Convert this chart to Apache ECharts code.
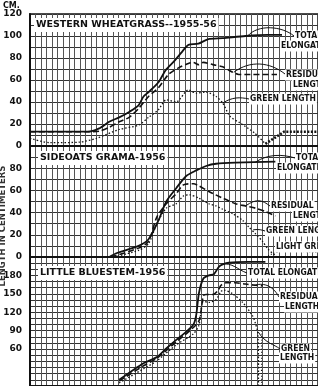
<!DOCTYPE html>
<html>
<head>
<meta charset="utf-8">
<script src="https://cdn.jsdelivr.net/npm/echarts@6/dist/echarts.min.js"></script>
<style>
html,body{margin:0;padding:0;background:#fff;}
#c{width:318px;height:386px;}
</style>
</head>
<body>
<div id="c"></div>
<script>
// ---- data (x = time grid units, y = length in cm) ----
const panelTitles = ['WESTERN WHEATGRASS--1955-56', 'SIDEOATS GRAMA-1956', 'LITTLE BLUESTEM-1956'];
const yTicks1 = [0, 20, 40, 60, 80, 100, 120];
const yTicks2 = [0, 20, 40, 60, 80];
const yTicks3 = [60, 90, 120, 150, 180];

// Western wheatgrass 1955-56
const wwTotal = [[0,13],[10.4,13],[12.5,16],[14.3,22],[16.1,26],[17.9,31],[19.6,37],[20.5,45],[21.4,49],[23.2,58],[24.5,69],[26.2,78],[28.0,89],[28.6,92],[30.4,93],[32.1,97],[34.8,98],[38.9,100],[42.9,101],[45.5,101]];
const wwResidual = [[0,13],[10.4,13],[12.5,13.5],[14.3,17],[16.1,22],[17.9,26],[19.6,34],[21.4,45],[23.2,53],[25.0,65],[26.8,71],[28.6,75],[29.5,76],[30.4,74],[31.3,76],[33.0,74],[34.8,72],[36.6,67],[37.7,65],[44.6,65]];
const wwGreen = [[0,7],[3.6,3],[8.9,3.5],[12.0,7],[16.1,15],[19.6,19],[21.4,26],[23.2,33],[24.6,42],[26.4,40],[28.6,51],[30.0,48],[31.8,49],[33.6,45],[34.8,39],[36.1,27],[37.9,21],[40.5,12],[42.5,2]];
const wwNewGreen = [[42.5,2],[45.9,13],[52,13]];

// Sideoats grama 1956
const sgTotal = [[14.3,0],[15.7,3.6],[19.6,10],[21.4,16],[23.2,33],[24.6,50],[26.4,62],[28.2,73],[30.0,78],[31.8,82],[33.6,84],[37.1,85],[44.3,86]];
const sgResidual = [[14.6,0],[19.6,8],[21.4,14],[22.9,36],[24.6,48],[26.4,57],[27.7,65],[29.5,66],[30.5,64],[32.3,59],[34.8,53],[37.1,48],[38.9,46],[40.7,44],[42.5,41],[44.3,37]];
const sgGreen = [[15.2,0],[19.6,6],[21.4,12],[22.9,30],[24.6,44],[26.4,48],[27.7,55],[28.8,56],[30.5,53],[32.3,48],[33.6,46],[34.8,43],[36.6,39],[38.4,33],[39.5,27],[40.7,21],[42.0,14],[43.0,7],[44.6,0]];
const sgLightGreen = [[42.5,0],[43.8,3],[45.2,5],[47.3,5.5],[49.1,5],[52,4]];

// Little bluestem 1956
const lbTotal = [[16.1,10],[20.5,37],[22.9,47],[24.6,61],[26.4,75],[28.2,88],[29.5,100],[30.0,115],[30.5,151],[31.3,175],[32.3,180],[33.2,182],[34.1,194],[34.8,198],[35.9,201],[39.5,202],[42.5,202]];
const lbResidual = [[16.1,8],[20.5,33],[22.9,45],[26.4,72],[28.6,88],[30.5,106],[31.3,147],[31.8,149],[33.0,149],[33.9,155],[34.5,164],[35.4,168],[37.1,168],[38.9,166],[40.7,164],[42.0,163]];
const lbGreen = [[16.1,5],[20.5,28],[22.9,41],[26.4,67],[29.5,85],[30.5,99],[31.3,138],[32.3,136],[33.6,141],[34.5,154],[35.0,156],[36.6,150],[38.4,136],[40.2,114],[40.7,102],[41.1,88],[41.25,40],[41.25,0]];
const lbLightGreen = [[41.8,90],[41.8,0]];

// ---- chart ----
const INK = '#111';
const LBL_FONT = '"DejaVu Sans", sans-serif';
const NOTE_FONT = '"Liberation Sans Narrow", "DejaVu Sans Condensed", "Liberation Sans", sans-serif';
const chart = echarts.init(document.getElementById('c'), null, {renderer: 'canvas'});

const gridBase = {left: 30, width: 291.2, show: true, borderColor: INK, borderWidth: 1.5, backgroundColor: '#fff'};
const grids = [
  Object.assign({top: 14, height: 132}, gridBase),
  Object.assign({top: 146, height: 111}, gridBase),
  Object.assign({top: 257, height: 157.5}, gridBase)
];

function xAx(i) {
  return {
    gridIndex: i, type: 'value', min: 0, max: 52, interval: 1,
    axisLabel: {show: false}, axisTick: {show: false},
    axisLine: {show: true, onZero: false, lineStyle: {color: INK, width: 2}},
    splitLine: {show: true, lineStyle: {color: '#555', width: 1}}
  };
}
function yAx(i, max, ticks) {
  return {
    gridIndex: i, type: 'value', min: 0, max: max, interval: 10,
    axisTick: {show: false},
    axisLine: {show: true, lineStyle: {color: INK, width: 2}},
    splitLine: {show: true, lineStyle: {color: '#333', width: 1}},
    axisLabel: {
      show: true, margin: 8, color: INK, fontFamily: LBL_FONT, fontWeight: 'bold', fontSize: 9,
      formatter: v => ticks.indexOf(v) >= 0 ? String(v) : ''
    }
  };
}
function ser(i, data, kind) {
  const s = {type: 'line', xAxisIndex: i, yAxisIndex: i, data: data, symbol: 'none', smooth: 0.25, z: 5,
             lineStyle: {color: INK}};
  if (kind === 'total') { s.lineStyle.width = 1.8; s.lineStyle.type = 'solid'; }
  if (kind === 'residual') { s.lineStyle.width = 1.6; s.lineStyle.type = [6, 3]; }
  if (kind === 'green') { s.lineStyle.width = 1.3; s.lineStyle.type = [1.5, 2]; }
  if (kind === 'light') { s.lineStyle.width = 1.1; s.lineStyle.type = [1, 2]; }
  if (kind === 'heavy') { s.lineStyle.width = 2.6; s.lineStyle.type = [2, 1.5]; s.smooth = 0; }
  return s;
}

chart.setOption({
  animation: false,
  backgroundColor: '#fff',
  grid: grids,
  xAxis: [xAx(0), xAx(1), xAx(2)],
  yAxis: [yAx(0, 120, yTicks1), yAx(1, 100, yTicks2), yAx(2, 210, yTicks3)],
  series: [
    ser(0, wwTotal, 'total'), ser(0, wwResidual, 'residual'), ser(0, wwGreen, 'green'), ser(0, wwNewGreen, 'heavy'),
    ser(1, sgTotal, 'total'), ser(1, sgResidual, 'residual'), ser(1, sgGreen, 'green'), ser(1, sgLightGreen, 'light'),
    ser(2, lbTotal, 'total'), ser(2, lbResidual, 'residual'), ser(2, lbGreen, 'green'), ser(2, lbLightGreen, 'light')
  ]
});

// ---- annotations ----
const g = [];
function txt(x, y, s, opt) {
  g.push({type: 'text', x: x, y: y, z: 20, style: Object.assign({
    text: s, fill: INK, font: 'bold 8.5px ' + NOTE_FONT, textVerticalAlign: 'middle',
    backgroundColor: '#fff', padding: [1, 1]
  }, opt || {})});
}
function leader(gi, pt, cp1, cp2, end) {
  const p = chart.convertToPixel({gridIndex: gi}, pt);
  g.push({type: 'bezierCurve', z: 19, shape: {x1: p[0], y1: p[1], cpx1: cp1[0], cpy1: cp1[1], cpx2: cp2[0], cpy2: cp2[1], x2: end[0], y2: end[1]},
          style: {stroke: INK, lineWidth: 1, fill: null}});
}
// titles
txt(34, 25, panelTitles[0], {font: 'bold 9.5px ' + LBL_FONT, padding: [2, 2]});
txt(38, 158, panelTitles[1], {font: 'bold 9.5px ' + LBL_FONT, padding: [2, 2]});
txt(38, 273, panelTitles[2], {font: 'bold 9.5px ' + LBL_FONT, padding: [2, 2]});
// axis unit and name
txt(2, 6, 'CM.', {font: 'bold 8px ' + LBL_FONT, backgroundColor: null});
g.push({type: 'text', x: 3, y: 226, rotation: Math.PI / 2, z: 20, style: {
  text: 'LENGTH IN CENTIMETERS', fill: '#333', font: 'bold 8.5px ' + LBL_FONT, textAlign: 'center', textVerticalAlign: 'middle'}});

// panel 1 notes
leader(0, [39.3, 100], [258, 24], [282, 26], [294, 36]);
txt(294, 36, 'TOTAL'); txt(280, 46, 'ELONGATION');
leader(0, [36.8, 67], [250, 60], [270, 62], [285, 74]);
txt(285, 75, 'RESIDUAL'); txt(292, 85, 'LENGTH');
leader(0, [34.8, 39], [232, 97], [240, 97], [249, 99]);
txt(249, 99, 'GREEN LENGTH');
// panel 2 notes
leader(1, [40.7, 85.5], [268, 154], [282, 154], [295, 158]);
txt(295, 158, 'TOTAL'); txt(276, 168, 'ELONGATION');
leader(1, [38.9, 46], [257, 198], [262, 200], [270, 206]);
txt(270, 206, 'RESIDUAL'); txt(292, 216, 'LENGTH');
leader(1, [40.3, 24.5], [259, 229], [262, 230], [265, 231]);
txt(265, 231, 'GREEN LENGTH');
txt(275, 247, 'LIGHT GREEN');
// panel 3 notes
leader(2, [34.6, 198], [232, 262], [238, 270], [247, 273]);
txt(247, 273, 'TOTAL ELONGATION');
leader(2, [40.5, 164], [262, 283], [272, 284], [279, 297]);
txt(279, 297, 'RESIDUAL'); txt(284, 307, 'LENGTH');
leader(2, [41.2, 88], [266, 344], [274, 344], [280, 349]);
txt(280, 349, 'GREEN'); txt(279, 358, 'LENGTH');

chart.setOption({graphic: g});
</script>
</body>
</html>
